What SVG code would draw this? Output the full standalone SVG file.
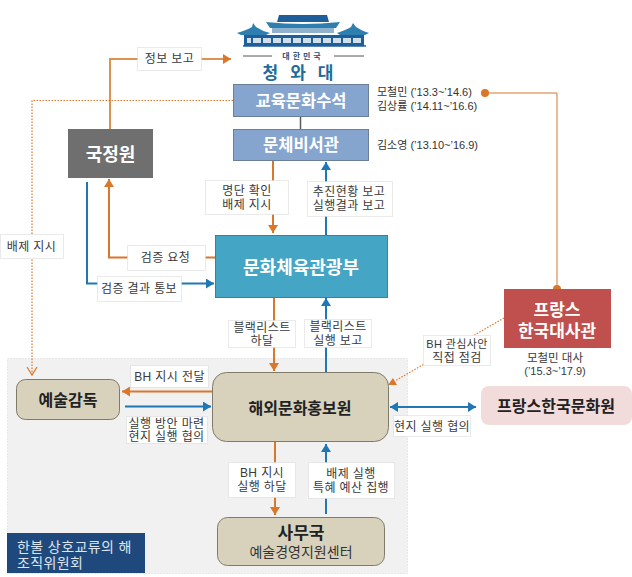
<svg xmlns="http://www.w3.org/2000/svg" width="632" height="577" viewBox="0 0 632 577">
<style>
text{font-family:"Liberation Sans","Noto Sans CJK KR",sans-serif;text-anchor:middle;fill:#3a3a3a}
.lb{font-size:12px;letter-spacing:.4px}
.box{fill:#fff;stroke:#d4d4d4;stroke-width:1;stroke-dasharray:1 1}
.o{fill:none;stroke:#d9772b;stroke-width:2}
.b{fill:none;stroke:#1f77b4;stroke-width:2}
.od{fill:none;stroke:#d9772b;stroke-width:1.2;stroke-dasharray:1.5 1.5}
.tan{fill:#d8d2bd;stroke:#7f7b68;stroke-width:1}
.w{fill:#fff;font-weight:700}
.k{fill:#222;font-weight:700}
.side{font-size:11px;text-anchor:start;fill:#333}
.bn{font-size:14px;fill:#dce6f2;text-anchor:start;letter-spacing:.4px}
</style>
<defs>
<marker id="ao" markerUnits="userSpaceOnUse" markerWidth="10" markerHeight="10" refX="8" refY="5" orient="auto"><path d="M0 0L8 5L0 10Z" fill="#d9772b"/></marker>
<marker id="ab" markerUnits="userSpaceOnUse" markerWidth="10" markerHeight="10" refX="8" refY="5" orient="auto-start-reverse"><path d="M0 0L8 5L0 10Z" fill="#1f77b4"/></marker>
<marker id="av" markerUnits="userSpaceOnUse" markerWidth="12" markerHeight="12" refX="9" refY="6" orient="auto"><path d="M1 1L9 6L1 11" fill="none" stroke="#d9772b" stroke-width="1.2"/></marker>
</defs>
<rect width="632" height="577" fill="#fff"/>
<rect id="committee-area" x="7.500" y="358.500" width="400" height="215" fill="#f1f1f1" stroke="#d8d8d8" stroke-dasharray="1 2"/>

<g id="cheongwadae">
<path d="M277 22L279 15H327L329 22Z" fill="#1f5f99"/>
<path d="M266 22Q303 26 340 22L336 28H270Z" fill="#2f7eb0"/>
<path d="M237 33Q247 30 252 27L253 23L256 27Q262 31 270 33L266 35H241Z" fill="#2f7eb0"/>
<path d="M337 33Q346 30 351 27L353 23L356 27Q362 31 369 33L365 35H340Z" fill="#2f7eb0"/>
<rect x="272" y="28" width="62" height="5" fill="#8fb3cf"/>
<rect x="244" y="35" width="120" height="11" fill="#1f5f99"/>
<rect x="247" y="38" width="114" height="5" fill="#cfe0ec"/>
<path d="M252 35V46M262 35V46M272 35V46M282 35V46M292 35V46M302 35V46M312 35V46M322 35V46M332 35V46M342 35V46M352 35V46" stroke="#1f5f99" stroke-width="2"/>
<path d="M243 46H366" stroke="#1f5f99" stroke-width="1.500"/>
<path d="M243 56H272M334 56H364" stroke="#555" stroke-width="1"/>
<text x="303" y="59" style="font-size:8px;letter-spacing:3px;font-weight:700;fill:#1f4f80">대한민국</text>
<text x="304" y="79" style="font-size:17px;font-weight:700;letter-spacing:12px;fill:#1f6b9b">청와대</text>
</g>

<g id="connectors">
<path class="o" d="M110 129V59H231" marker-end="url(#ao)" style="stroke:#dc9350"/>
<path class="od" d="M233 100.500H32V375" marker-end="url(#av)"/>
<path class="o" d="M215 257.500H109V179" marker-end="url(#ao)"/>
<path class="b" d="M87 182V283.500H214" marker-end="url(#ab)"/>
<path d="M300.500 116V129" stroke="#5a5a5a" stroke-width="1.500" fill="none"/>
<path class="o" d="M273 161V233" marker-end="url(#ao)"/>
<path class="b" d="M326 235V162" marker-end="url(#ab)"/>
<path class="o" d="M274 297V371" marker-end="url(#ao)"/>
<path class="b" d="M326 372V298" marker-end="url(#ab)"/>
<path class="o" d="M212 391.500H122" marker-end="url(#ao)"/>
<path class="b" d="M125 406.500H211" marker-end="url(#ab)"/>
<path class="o" d="M275 442V515" marker-end="url(#ao)"/>
<path class="b" d="M326 514V444" marker-end="url(#ab)"/>
<path class="b" d="M390 407H476" marker-start="url(#ab)" marker-end="url(#ab)"/>
<path class="od" d="M504 318L395 381"/>
<path d="M388 385L397 385L393 378Z" fill="#d9772b"/>
<path d="M487 93H557V289" fill="none" stroke="#d9772b" stroke-width="1"/>
<circle cx="485" cy="93" r="4" fill="#d9772b"/>
<circle cx="557" cy="289" r="4" fill="#d9772b"/>
</g>

<g id="node-edu"><rect x="233.500" y="84.500" width="135" height="32" fill="#85a5cf" stroke="#6b7f99"/><text x="301" y="107" class="w" style="font-size:16.500px">교육문화수석</text></g>
<g id="node-sec"><rect x="233.500" y="129.500" width="135" height="31" fill="#85a5cf" stroke="#6b7f99"/><text x="301" y="151" class="w" style="font-size:16.500px">문체비서관</text></g>
<g id="notes">
<text class="side" x="377" y="96">모철민 (’13.3~’14.6)</text>
<text class="side" x="377" y="110">김상률 (’14.11~’16.6)</text>
<text class="side" x="377" y="149">김소영 (’13.10~’16.9)</text>
<text x="555" y="362" style="font-size:11.500px">모철민 대사</text>
<text x="555" y="375" style="font-size:11px">(’15.3~’17.9)</text>
</g>
<g id="node-nis"><rect x="68" y="129" width="85" height="49" fill="#6f6f6f"/><text x="110.500" y="161" class="w" style="font-size:18px">국정원</text></g>
<g id="node-mcst"><rect x="215.500" y="235.500" width="172" height="62" fill="#45a5c4" stroke="#3c8197"/><text x="301" y="274" class="w" style="font-size:18px">문화체육관광부</text></g>
<g id="node-kocis"><rect class="tan" x="212.500" y="372.500" width="176" height="69" rx="14"/><text x="300" y="414" class="k" style="font-size:16px">해외문화홍보원</text></g>
<g id="node-art"><rect class="tan" x="16.500" y="379.500" width="103" height="40" rx="9"/><text x="68" y="406" class="k" style="font-size:16px">예술감독</text></g>
<g id="node-office"><rect class="tan" x="217.500" y="517.500" width="167" height="48" rx="10"/><text x="301" y="539" class="k" style="font-size:17px">사무국</text><text x="301" y="557" style="font-size:14px;fill:#333">예술경영지원센터</text></g>
<g id="node-embassy"><rect x="504" y="289" width="107" height="59" fill="#c0504d"/><text x="557" y="316" class="w" style="font-size:17px">프랑스</text><text x="557" y="337" class="w" style="font-size:17px">한국대사관</text></g>
<g id="node-center"><rect x="481" y="386" width="151" height="39" rx="8" fill="#f2dcdb"/><text x="556" y="412" class="k" style="font-size:16px">프랑스한국문화원</text></g>
<g id="banner"><rect x="7" y="533" width="138" height="40" fill="#1f497d"/><text class="bn" x="17" y="552">한불 상호교류의 해</text><text class="bn" x="17" y="568">조직위원회</text></g>

<g id="labels">
<rect class="box" x="137.500" y="47.500" width="64" height="23"/><text class="lb" x="169.500" y="63">정보 보고</text>
<rect class="box" x="0.500" y="234.500" width="63" height="24"/><text class="lb" x="31.500" y="251">배제 지시</text>
<rect class="box" x="127.500" y="245.500" width="78" height="25"/><text class="lb" x="165.500" y="262">검증 요청</text>
<rect class="box" x="97.500" y="276.500" width="84" height="25"/><text class="lb" x="139" y="293">검증 결과 통보</text>
<rect class="box" x="205.500" y="180.500" width="83" height="34"/><text class="lb" x="247" y="195">명단 확인</text><text class="lb" x="247" y="209">배제 지시</text>
<rect class="box" x="307.500" y="181.500" width="85" height="35"/><text class="lb" x="349" y="196">추진현황 보고</text><text class="lb" x="349" y="210">실행결과 보고</text>
<rect class="box" x="228.500" y="320.500" width="67" height="27"/><text class="lb" x="262" y="332">블랙리스트</text><text class="lb" x="262" y="345">하달</text>
<rect class="box" x="304.500" y="319.500" width="67" height="28"/><text class="lb" x="338" y="331">블랙리스트</text><text class="lb" x="338" y="345">실행 보고</text>
<rect class="box" x="130.500" y="365.500" width="78" height="22"/><text class="lb" x="169.500" y="381">BH 지시 전달</text>
<rect class="box" x="126.500" y="416.500" width="81" height="27"/><text class="lb" x="166.500" y="428">실행 방안 마련</text><text class="lb" x="166.500" y="441">현지 실행 협의</text>
<rect class="box" x="228.500" y="462.500" width="67" height="35"/><text class="lb" x="262" y="477">BH 지시</text><text class="lb" x="262" y="491">실행 하달</text>
<rect class="box" x="308.500" y="462.500" width="86" height="36"/><text class="lb" x="351" y="478">배제 실행</text><text class="lb" x="351" y="492">특혜 예산 집행</text>
<rect class="box" x="393.500" y="415.500" width="77" height="21"/><text class="lb" x="432" y="431">현지 실행 협의</text>
<rect class="box" x="423.500" y="335.500" width="67" height="30"/><text class="lb" x="457" y="348" style="font-size:11px">BH 관심사안</text><text class="lb" x="457" y="362">직접 점검</text>
</g>
</svg>
